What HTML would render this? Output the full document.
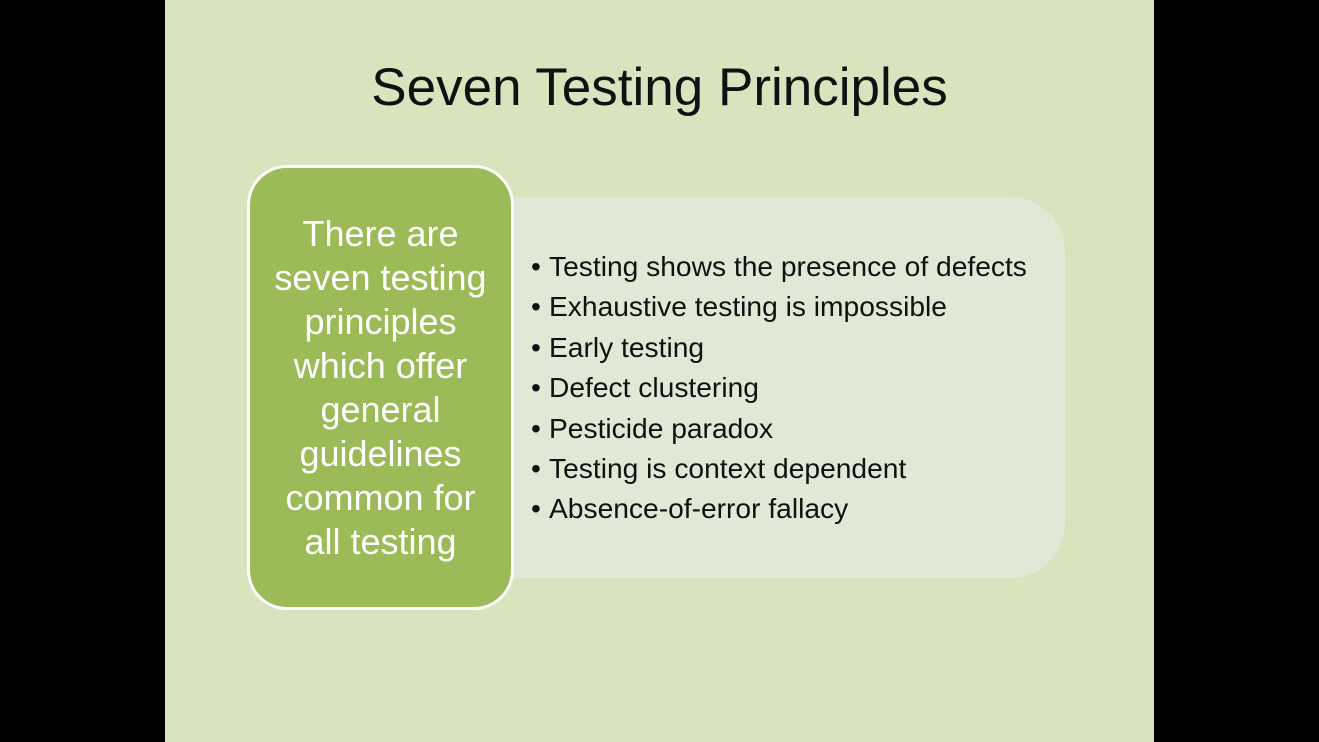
<!DOCTYPE html>
<html><head><meta charset="utf-8"><style>
html,body{margin:0;padding:0;width:1319px;height:742px;background:#000;overflow:hidden;font-family:"Liberation Sans",sans-serif}
#slide{position:absolute;left:165px;top:0;width:989px;height:742px;background:#d7e4bd}
#title{position:absolute;left:0;width:989px;top:57px;text-align:center;font-size:53px;color:#111;line-height:62px}
#panel{position:absolute;left:335px;top:197px;width:565px;height:381px;background:#e1e9d6;border-radius:0 55px 55px 0}
#box{position:absolute;left:82px;top:165px;width:267px;height:445px;background:#9bbb59;border:3px solid #fff;border-radius:40px;color:#fff;text-align:center;font-size:36px;line-height:44px;box-sizing:border-box;padding-top:44px}
#list{position:absolute;left:364px;top:246px;margin:0;padding:0;list-style:none;font-size:28.2px;line-height:40.4px;color:#111}
#list li:before{content:"•";display:inline-block;width:18px;margin-left:2px}
</style></head><body>
<div id="slide">
<div id="title">Seven Testing Principles</div>
<div id="panel"></div>
<div id="box">There are<br>seven testing<br>principles<br>which offer<br>general<br>guidelines<br>common for<br>all testing</div>
<ul id="list">
<li>Testing shows the presence of defects</li>
<li>Exhaustive testing is impossible</li>
<li>Early testing</li>
<li>Defect clustering</li>
<li>Pesticide paradox</li>
<li>Testing is context dependent</li>
<li>Absence-of-error fallacy</li>
</ul>
</div>
</body></html>
